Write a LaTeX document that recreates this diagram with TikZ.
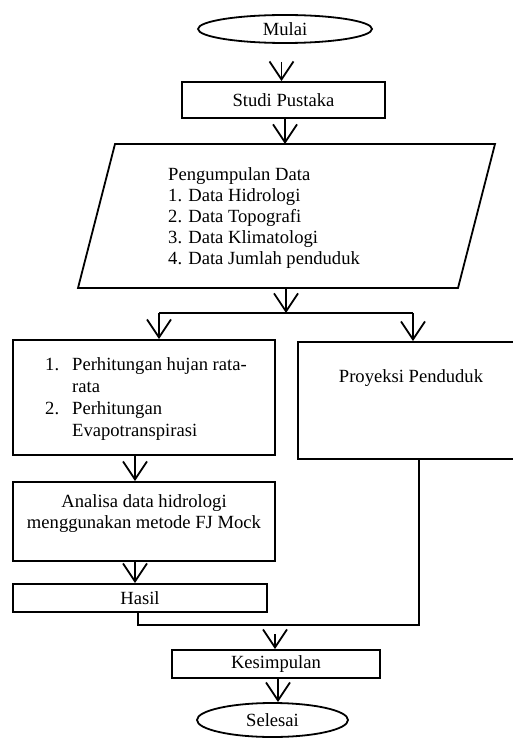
\documentclass[tikz,border=0pt]{standalone}
\usepackage{fontspec}
\setmainfont{Liberation Serif}
\usetikzlibrary{arrows.meta,shapes.geometric}
\tikzset{
  base/.style={line width=1.8pt},
  box/.style={base,draw,rectangle,inner sep=0pt},
  oval/.style={base,draw,ellipse,inner sep=0pt},
  arr/.style={base,-{Straight Barb[length=18pt,width=24pt]}},
  lbl/.style={inner sep=0pt,font=\fontsize{18.6}{21}\selectfont},
}
\begin{document}
\begin{tikzpicture}[x=1pt,y=-1pt,font=\fontsize{18.6}{21}\selectfont]
\useasboundingbox (0,0) rectangle (513,738);
% nodes
\node[oval,minimum width=174pt,minimum height=28pt] (mulai) at (285,29) {Mulai};
\node[box,minimum width=203pt,minimum height=36pt] (studi) at (283.5,100) {Studi Pustaka};
\draw[base] (115,144) coordinate (pa) -- (495,144) -- (458,288) -- (78,288) -- cycle;
\node[lbl,align=left,anchor=west] (datatxt) at (168,218) {Pengumpulan Data\\1. Data Hidrologi\\2. Data Topografi\\3. Data Klimatologi\\4. Data Jumlah penduduk};
\coordinate (dtop) at (285,144);
\coordinate (dbot) at (286,288);
\coordinate (jn) at (286,313);
\coordinate (jl) at (159,313);
\coordinate (jr) at (413,313);
\node[box,minimum width=262pt,minimum height=115pt] (hitung) at (144,397.5) {};
\node[lbl,anchor=west] (hitungtxt) at (45,399) {\fontsize{18.6}{22}\selectfont\begin{tabular}{@{}p{27pt}@{}l@{}}1. & Perhitungan hujan rata-\\ & rata\\ 2. & Perhitungan\\ & Evapotranspirasi\end{tabular}};
\node[box,minimum width=222pt,minimum height=117pt] (proy) at (409,400.5) {};
\node[lbl] (proytxt) at (411,378) {Proyeksi Penduduk};
\node[box,minimum width=262pt,minimum height=79pt] (analisa) at (144,521.5) {};
\node[lbl,align=center] (analisatxt) at (144,514) {Analisa data hidrologi\\menggunakan metode FJ Mock};
\node[box,minimum width=254pt,minimum height=28pt] (hasil) at (140,598) {Hasil};
\node[box,minimum width=208pt,minimum height=28pt] (kes) at (276,664) {Kesimpulan};
\node[oval,minimum width=151pt,minimum height=34pt] (selesai) at (272.5,720) {Selesai};
\coordinate (pb) at (419,459);
\coordinate (mj) at (419,625);
\coordinate (hb) at (138,612);
% connectors
\draw[arr] (studi.north |- mulai.south) ++(-2,18) coordinate (a1) -- (studi.north -| a1);
\draw[arr] (studi.south -| dtop) -- (dtop);
\draw[arr] (dbot) -- (jn);
\draw[base] (jl) -- (jr);
\draw[arr] (jl) -- (hitung.north -| jl);
\draw[arr] (jr) -- (proy.north -| jr);
\draw[arr] (hitung.south -| 135,0) -- (analisa.north -| 135,0);
\draw[arr] (analisa.south -| 135,0) -- (hasil.north -| 135,0);
\draw[base] (hb) |- (mj) -- (pb);
\draw[arr] (kes.north) ++(-1,-15) -- (kes.north -| 275,0);
\draw[arr] (kes.south -| 278,0) -- (selesai.north -| 278,0);
\end{tikzpicture}
\end{document}
